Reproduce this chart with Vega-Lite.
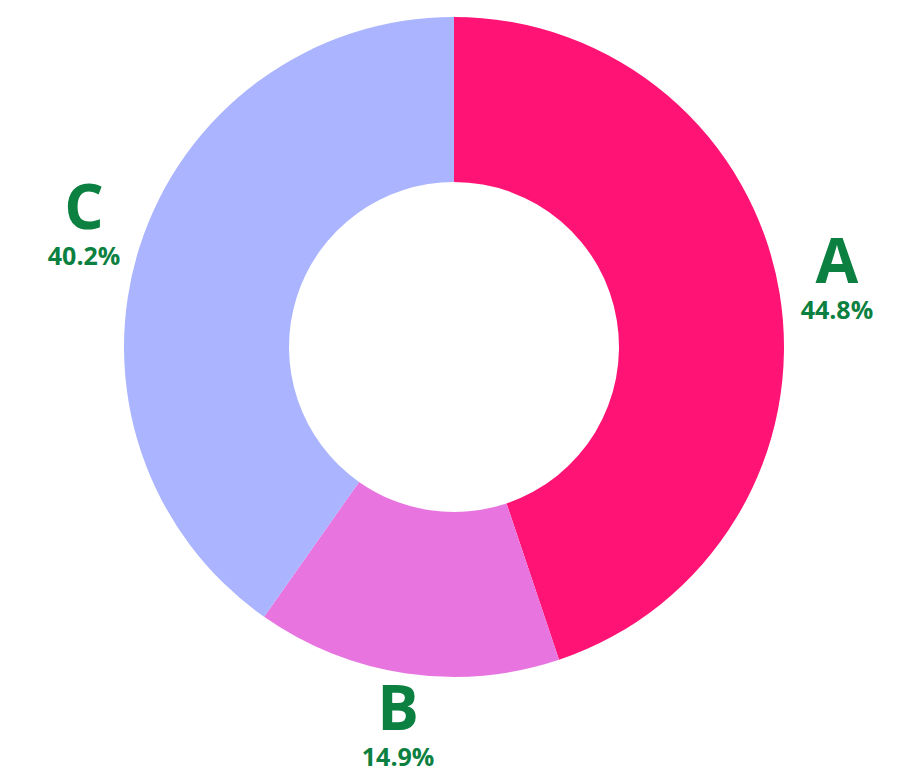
{
  "$schema": "https://vega.github.io/schema/vega-lite/v6.json",
  "width": 892,
  "height": 694,
  "padding": {"left": 8, "top": 0, "right": 0, "bottom": 86},
  "autosize": {"type": "none"},
  "background": "white",
  "config": {"view": {"stroke": null}},
  "data": {"values": [
    {"name": "A", "value": 44.8, "pct": "44.8%"},
    {"name": "B", "value": 14.9, "pct": "14.9%"},
    {"name": "C", "value": 40.2, "pct": "40.2%"}
  ]},
  "encoding": {
    "theta": {"field": "value", "type": "quantitative", "stack": true},
    "order": {"field": "name", "sort": "ascending"}
  },
  "layer": [
    {
      "mark": {"type": "arc", "outerRadius": 330, "innerRadius": 165},
      "encoding": {
        "color": {"field": "name", "type": "nominal", "legend": null,
          "scale": {"domain": ["A", "B", "C"], "range": ["#FF1475", "#E874E0", "#AAB4FF"]}}
      }
    },
    {
      "mark": {"type": "text", "radius": 388, "dy": -20, "fontSize": 62, "fontWeight": "bold", "font": "Open Sans", "color": "#0B8040", "baseline": "middle", "align": "center"},
      "encoding": {"text": {"field": "name"}}
    },
    {
      "mark": {"type": "text", "radius": 388, "dy": 27, "fontSize": 25, "fontWeight": "bold", "font": "Open Sans", "color": "#0B8040", "baseline": "middle", "align": "center"},
      "encoding": {"text": {"field": "pct"}}
    }
  ]
}
